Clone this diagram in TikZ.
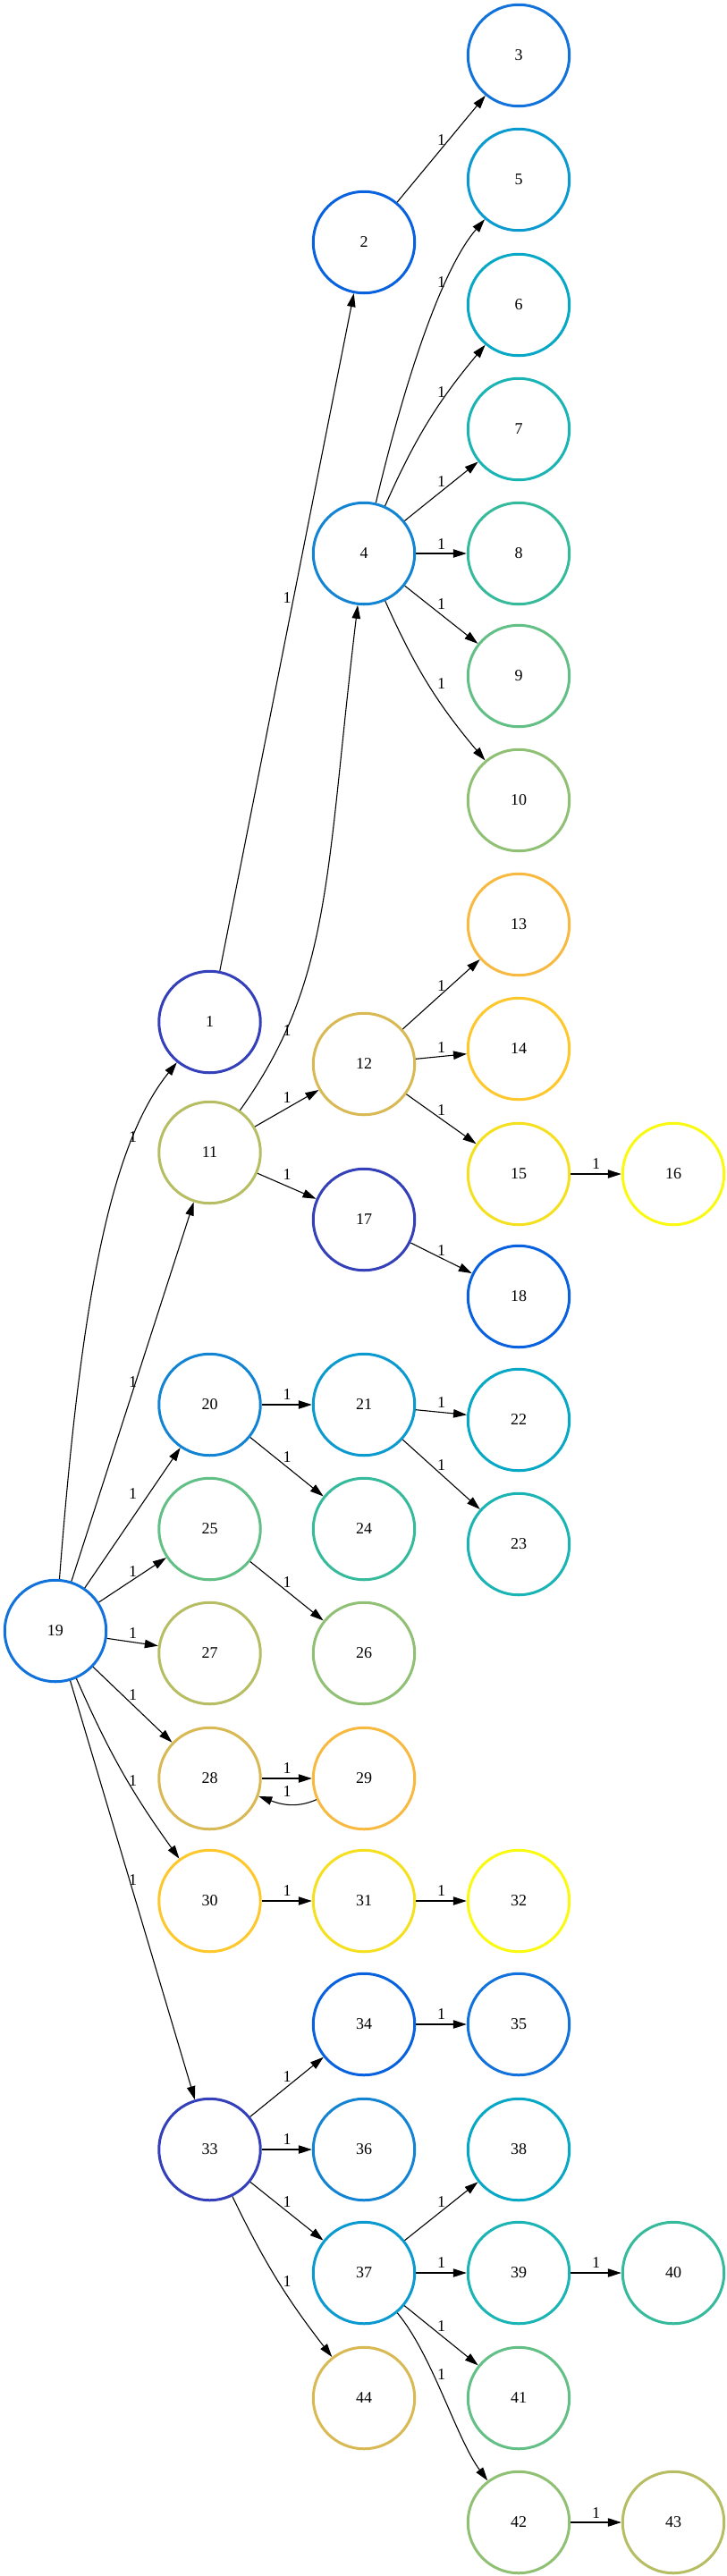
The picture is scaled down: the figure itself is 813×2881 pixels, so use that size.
\documentclass[tikz,border=0pt]{standalone}
\usepackage{fontspec}
\setmainfont{Liberation Serif}
\usetikzlibrary{arrows.meta}
\definecolor{c0}{RGB}{52,64,185}
\definecolor{c1}{RGB}{8,98,224}
\definecolor{c2}{RGB}{18,114,220}
\definecolor{c3}{RGB}{19,132,212}
\definecolor{c4}{RGB}{11,154,208}
\definecolor{c5}{RGB}{7,168,198}
\definecolor{c6}{RGB}{26,180,180}
\definecolor{c7}{RGB}{54,186,156}
\definecolor{c8}{RGB}{98,191,133}
\definecolor{c9}{RGB}{143,192,116}
\definecolor{c10}{RGB}{182,189,98}
\definecolor{c11}{RGB}{217,185,83}
\definecolor{c12}{RGB}{248,185,64}
\definecolor{c13}{RGB}{254,200,44}
\definecolor{c14}{RGB}{245,224,32}
\definecolor{c15}{RGB}{249,250,16}
\begin{document}
\begin{tikzpicture}[x=0.5pt,y=-0.5pt,
  vtx/.style={circle,draw,line width=1.5pt,minimum size=56.75pt,inner sep=0pt,
    font=\fontsize{9}{10}\selectfont},
  edge/.style={line width=0.55pt,-{Triangle[length=7.5pt,width=4.7pt]}},
  wt/.style={inner sep=0pt,font=\fontsize{9}{10}\selectfont}]
  \useasboundingbox (0,0) rectangle (813,2881);
  \pgfmathsetmacro\xa{62}
  \pgfmathsetmacro\xb{234.5}
  \pgfmathsetmacro\xc{407}
  \pgfmathsetmacro\xd{580}
  \pgfmathsetmacro\xe{753}
  \pgfmathsetmacro\la{148.5}
  \pgfmathsetmacro\lb{321}
  \pgfmathsetmacro\lc{493.5}
  \pgfmathsetmacro\ld{666.5}
  \node[vtx,draw=c0] (n1) at (\xb,1143) {1};
  \node[vtx,draw=c1] (n2) at (\xc,271) {2};
  \node[vtx,draw=c2] (n3) at (\xd,62) {3};
  \node[vtx,draw=c3] (n4) at (\xc,619) {4};
  \node[vtx,draw=c4] (n5) at (\xd,201) {5};
  \node[vtx,draw=c5] (n6) at (\xd,341) {6};
  \node[vtx,draw=c6] (n7) at (\xd,480) {7};
  \node[vtx,draw=c7] (n8) at (\xd,619) {8};
  \node[vtx,draw=c8] (n9) at (\xd,756) {9};
  \node[vtx,draw=c9] (n10) at (\xd,895) {10};
  \node[vtx,draw=c10] (n11) at (\xb,1289) {11};
  \node[vtx,draw=c11] (n12) at (\xc,1190) {12};
  \node[vtx,draw=c12] (n13) at (\xd,1034) {13};
  \node[vtx,draw=c13] (n14) at (\xd,1173) {14};
  \node[vtx,draw=c14] (n15) at (\xd,1313) {15};
  \node[vtx,draw=c15] (n16) at (\xe,1313) {16};
  \node[vtx,draw=c0] (n17) at (\xc,1364) {17};
  \node[vtx,draw=c1] (n18) at (\xd,1450) {18};
  \node[vtx,draw=c2] (n19) at (\xa,1824) {19};
  \node[vtx,draw=c3] (n20) at (\xb,1571) {20};
  \node[vtx,draw=c4] (n21) at (\xc,1571) {21};
  \node[vtx,draw=c5] (n22) at (\xd,1588) {22};
  \node[vtx,draw=c6] (n23) at (\xd,1727) {23};
  \node[vtx,draw=c7] (n24) at (\xc,1710) {24};
  \node[vtx,draw=c8] (n25) at (\xb,1710) {25};
  \node[vtx,draw=c9] (n26) at (\xc,1849) {26};
  \node[vtx,draw=c10] (n27) at (\xb,1849) {27};
  \node[vtx,draw=c11] (n28) at (\xb,1989) {28};
  \node[vtx,draw=c12] (n29) at (\xc,1989) {29};
  \node[vtx,draw=c13] (n30) at (\xb,2126) {30};
  \node[vtx,draw=c14] (n31) at (\xc,2126) {31};
  \node[vtx,draw=c15] (n32) at (\xd,2126) {32};
  \node[vtx,draw=c0] (n33) at (\xb,2404) {33};
  \node[vtx,draw=c1] (n34) at (\xc,2264) {34};
  \node[vtx,draw=c2] (n35) at (\xd,2264) {35};
  \node[vtx,draw=c3] (n36) at (\xc,2404) {36};
  \node[vtx,draw=c4] (n37) at (\xc,2542) {37};
  \node[vtx,draw=c5] (n38) at (\xd,2404) {38};
  \node[vtx,draw=c6] (n39) at (\xd,2542) {39};
  \node[vtx,draw=c7] (n40) at (\xe,2542) {40};
  \node[vtx,draw=c8] (n41) at (\xd,2682) {41};
  \node[vtx,draw=c9] (n42) at (\xd,2821) {42};
  \node[vtx,draw=c10] (n43) at (\xe,2821) {43};
  \node[vtx,draw=c11] (n44) at (\xc,2682) {44};
  \draw[edge] (n19) .. controls (89.6,1466) and (121,1283) .. (n1);
  \draw[edge] (n19) -- (n11);
  \draw[edge] (n19) -- (n20);
  \draw[edge] (n19) -- (n25);
  \draw[edge] (n19) -- (n27);
  \draw[edge] (n19) -- (n28);
  \draw[edge] (n19) to[bend right=6] (n30);
  \draw[edge] (n19) -- (n33);
  \draw[edge] (n1) -- (n2);
  \draw[edge] (n2) -- (n3);
  \draw[edge] (n11) .. controls (372,1097) and (364,977) .. (n4);
  \draw[edge] (n11) -- (n12);
  \draw[edge] (n11) -- (n17);
  \draw[edge] (n4) .. controls (448,445) and (490,306) .. (n5);
  \draw[edge] (n4) to[bend left=8] (n6);
  \draw[edge] (n4) -- (n7);
  \draw[edge] (n4) -- (n8);
  \draw[edge] (n4) -- (n9);
  \draw[edge] (n4) to[bend right=8] (n10);
  \draw[edge] (n12) -- (n13);
  \draw[edge] (n12) -- (n14);
  \draw[edge] (n12) -- (n15);
  \draw[edge] (n15) -- (n16);
  \draw[edge] (n17) -- (n18);
  \draw[edge] (n20) -- (n21);
  \draw[edge] (n20) -- (n24);
  \draw[edge] (n21) -- (n22);
  \draw[edge] (n21) -- (n23);
  \draw[edge] (n25) -- (n26);
  \draw[edge] (n28) -- (n29);
  \draw[edge] (n29) to[out=204,in=-20] (n28);
  \draw[edge] (n30) -- (n31);
  \draw[edge] (n31) -- (n32);
  \draw[edge] (n33) -- (n34);
  \draw[edge] (n33) -- (n36);
  \draw[edge] (n33) -- (n37);
  \draw[edge] (n33) to[bend right=6] (n44);
  \draw[edge] (n34) -- (n35);
  \draw[edge] (n37) -- (n38);
  \draw[edge] (n37) -- (n39);
  \draw[edge] (n37) -- (n41);
  \draw[edge] (n37) .. controls (483.7,2634) and (510.4,2727.4) .. (n42);
  \draw[edge] (n39) -- (n40);
  \draw[edge] (n42) -- (n43);
  \node[wt] (l19-1) at (\la,1272) {1};
  \node[wt] (l19-11) at (\la,1546) {1};
  \node[wt] (l19-20) at (\la,1671) {1};
  \node[wt] (l19-25) at (\la,1758) {1};
  \node[wt] (l19-27) at (\la,1827) {1};
  \node[wt] (l19-28) at (\la,1896) {1};
  \node[wt] (l19-30) at (\la,1992) {1};
  \node[wt] (l19-33) at (\la,2103) {1};
  \node[wt] (l1-2) at (\lb,669) {1};
  \node[wt] (l11-4) at (\lb,1153) {1};
  \node[wt] (l11-12) at (\lb,1228) {1};
  \node[wt] (l11-17) at (\lb,1314) {1};
  \node[wt] (l20-21) at (\lb,1560) {1};
  \node[wt] (l20-24) at (\lb,1630) {1};
  \node[wt] (l25-26) at (\lb,1770) {1};
  \node[wt] (l28-29) at (\lb,1978) {1};
  \node[wt] (l29-28) at (\lb,2004) {1};
  \node[wt] (l30-31) at (\lb,2115) {1};
  \node[wt] (l33-34) at (\lb,2323) {1};
  \node[wt] (l33-36) at (\lb,2393) {1};
  \node[wt] (l33-37) at (\lb,2463) {1};
  \node[wt] (l33-44) at (\lb,2552) {1};
  \node[wt] (l2-3) at (\lc,157) {1};
  \node[wt] (l4-5) at (\lc,316) {1};
  \node[wt] (l4-6) at (\lc,439) {1};
  \node[wt] (l4-7) at (\lc,539) {1};
  \node[wt] (l4-8) at (\lc,609) {1};
  \node[wt] (l4-9) at (\lc,676) {1};
  \node[wt] (l4-10) at (\lc,765) {1};
  \node[wt] (l12-13) at (\lc,1103) {1};
  \node[wt] (l12-14) at (\lc,1172) {1};
  \node[wt] (l12-15) at (\lc,1242) {1};
  \node[wt] (l17-18) at (\lc,1399) {1};
  \node[wt] (l21-22) at (\lc,1569) {1};
  \node[wt] (l21-23) at (\lc,1639) {1};
  \node[wt] (l31-32) at (\lc,2115) {1};
  \node[wt] (l34-35) at (\lc,2253) {1};
  \node[wt] (l37-38) at (\lc,2463) {1};
  \node[wt] (l37-39) at (\lc,2531) {1};
  \node[wt] (l37-41) at (\lc,2602) {1};
  \node[wt] (l37-42) at (\lc,2656) {1};
  \node[wt] (l15-16) at (\ld,1302) {1};
  \node[wt] (l39-40) at (\ld,2531) {1};
  \node[wt] (l42-43) at (\ld,2811) {1};
\end{tikzpicture}
\end{document}
